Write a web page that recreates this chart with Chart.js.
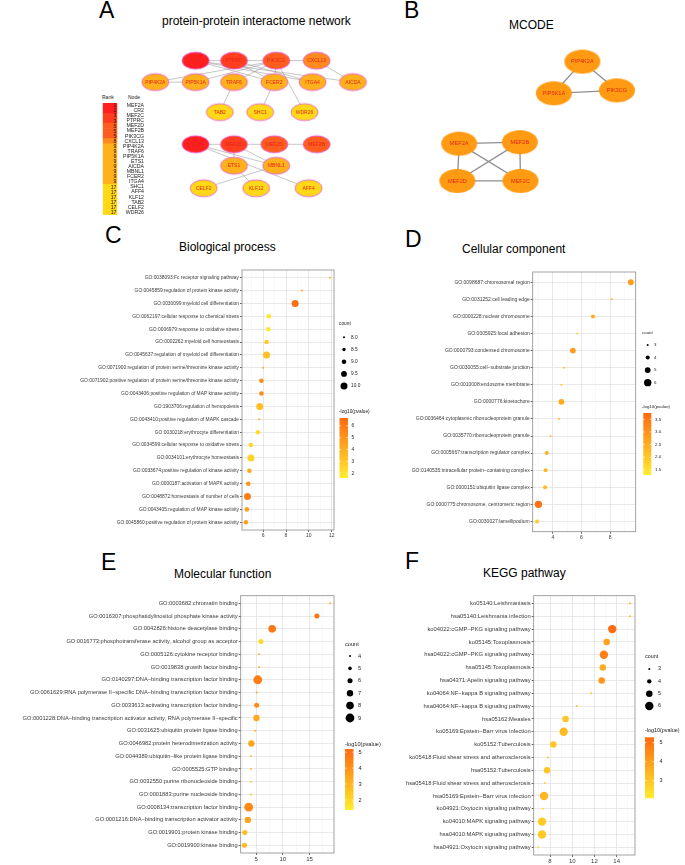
<!DOCTYPE html>
<html>
<head>
<meta charset="utf-8">
<script src="https://cdn.jsdelivr.net/npm/chart.js@4.4.1/dist/chart.umd.min.js"></script>
<style>
  body { margin: 0; background: #fff; width: 685px; height: 865px; position: relative; overflow: hidden; }
  canvas { position: absolute; }
  svg { position: absolute; left: 0; top: 0; }
</style>
</head>
<body>
<svg width="685" height="865" font-family="'Liberation Sans', Arial, sans-serif" fill="#000">
  <text x="99" y="18" font-size="23">A</text>
  <text x="162" y="25" font-size="12">protein-protein interactome network</text>
  <text x="404" y="18" font-size="23">B</text>
  <text x="509" y="29" font-size="12">MCODE</text>
  <text x="105" y="243" font-size="23">C</text>
  <text x="179" y="251" font-size="12">Biological process</text>
  <text x="405" y="247" font-size="23">D</text>
  <text x="462" y="253" font-size="12">Cellular component</text>
  <text x="101" y="570" font-size="23">E</text>
  <text x="174" y="578" font-size="12">Molecular function</text>
  <text x="405" y="569" font-size="23">F</text>
  <text x="483" y="577" font-size="12">KEGG pathway</text>
  <text x="102" y="98.5" font-size="5" fill="#222">Rank</text>
  <text x="128" y="98.5" font-size="5" fill="#222">Node</text>
</svg>
<canvas id="rankTable"></canvas>
<canvas id="netA"></canvas>
<canvas id="netB"></canvas>
<canvas id="bp"></canvas>
<canvas id="cc"></canvas>
<canvas id="mf"></canvas>
<canvas id="kegg"></canvas>
<script>
// ---- A: protein-protein network (layout units from the Cytoscape layout) ----
const pinNodes = ['CR2', 'PTPRC', 'PIK3CG', 'CXCL13', 'PIP4K2A', 'PIP5K1A', 'TRAF6', 'FCER2', 'ITGA4', 'AICDA',
  'TAB2', 'SHC1', 'WDR26', 'MEF2A', 'MEF2C', 'MEF2D', 'MEF2B', 'ETS1', 'MBNL1', 'CELF2', 'KLF12', 'AFF4'];
const pinX = [1, 1.95, 3, 4, 0, 1, 1.95, 2.95, 3.9, 4.9, 1.6, 2.6, 3.7, 1, 1.95, 2.95, 4, 1.95, 3, 1.2, 2.5, 3.8];
const pinY = [0, 0, 0, 0, 1, 1, 1, 1, 1, 1, 2.4, 2.4, 2.4, 3.9, 3.9, 3.9, 3.9, 4.9, 4.9, 5.95, 5.95, 5.95];
const pinEdges = [
  ['CR2', 'PTPRC'], ['CR2', 'FCER2'], ['CR2', 'ITGA4'], ['CR2', 'AICDA'], ['PTPRC', 'PIK3CG'],
  ['PTPRC', 'FCER2'], ['PTPRC', 'ITGA4'], ['PIK3CG', 'CXCL13'], ['PIK3CG', 'PIP4K2A'], ['PIK3CG', 'PIP5K1A'],
  ['PIK3CG', 'TRAF6'], ['PIK3CG', 'FCER2'], ['PIK3CG', 'WDR26'], ['PIP4K2A', 'PIP5K1A'], ['CXCL13', 'AICDA'],
  ['TRAF6', 'TAB2'], ['FCER2', 'SHC1'],
  ['MEF2A', 'MEF2C'], ['MEF2C', 'MEF2D'], ['MEF2D', 'MEF2B'], ['MEF2A', 'MBNL1'], ['MEF2C', 'MBNL1'],
  ['MEF2A', 'AFF4'], ['MEF2C', 'ETS1'], ['ETS1', 'KLF12'], ['MBNL1', 'CELF2']
];
const rankNodes = ['MEF2A', 'CR2', 'MEF2C', 'PTPRC', 'MEF2D', 'MEF2B', 'PIK3CG', 'CXCL13', 'PIP4K2A', 'TRAF6', 'PIP5K1A',
  'ETS1', 'AICDA', 'MBNL1', 'FCER2', 'ITGA4', 'SHC1', 'AFF4', 'KLF12', 'TAB2', 'CELF2', 'WDR26'];
const rankVals = [1, 1, 3, 3, 5, 5, 5, 8, 9, 9, 9, 9, 9, 9, 9, 9, 17, 17, 17, 17, 17, 17];

// ---- B: MCODE module ----
const mcodeNodes = ['PIP4K2A', 'PIP5K1A', 'PIK3CG', 'MEF2A', 'MEF2B', 'MEF2D', 'MEF2C'];
const mcodeX = [2.03, 1.56, 2.6, 0, 1, -0.03, 1.01];
const mcodeY = [-2.2, -1.35, -1.43, 0, -0.04, 1, 1];
const mcodeEdges = [['PIP4K2A', 'PIP5K1A'], ['PIP4K2A', 'PIK3CG'], ['PIP5K1A', 'PIK3CG'],
  ['MEF2A', 'MEF2B'], ['MEF2A', 'MEF2D'], ['MEF2A', 'MEF2C'], ['MEF2B', 'MEF2D'], ['MEF2B', 'MEF2C'], ['MEF2D', 'MEF2C']];

// ---- C: Biological process ----
const bpTerms = [
  'GO:0038093:Fc receptor signaling pathway',
  'GO:0045859:regulation of protein kinase activity',
  'GO:0030099:myeloid cell differentiation',
  'GO:0062197:cellular response to chemical stress',
  'GO:0006979:response to oxidative stress',
  'GO:0002262:myeloid cell homeostasis',
  'GO:0045637:regulation of myeloid cell differentiation',
  'GO:0071900:regulation of protein serine/threonine kinase activity',
  'GO:0071902:positive regulation of protein serine/threonine kinase activity',
  'GO:0043406:positive regulation of MAP kinase activity',
  'GO:1903706:regulation of hemopoiesis',
  'GO:0043410:positive regulation of MAPK cascade',
  'GO:0030218:erythrocyte differentiation',
  'GO:0034599:cellular response to oxidative stress',
  'GO:0034101:erythrocyte homeostasis',
  'GO:0033674:positive regulation of kinase activity',
  'GO:0000187:activation of MAPK activity',
  'GO:0048872:homeostasis of number of cells',
  'GO:0043405:regulation of MAP kinase activity',
  'GO:0045860:positive regulation of protein kinase activity'
];
const bpX = [11.83, 9.4, 8.8, 6.5, 6.45, 6.3, 6.3, 6.0, 5.85, 5.85, 5.7, 5.65, 5.54, 4.93, 4.93, 4.8, 4.7, 4.63, 4.58, 4.49];
const bpCount = [8, 8, 10, 9, 9, 9, 10, 8, 9, 9, 10, 8, 9, 9, 10, 9, 9, 10, 9, 9];
const bpLogP = [3.6, 4.4, 6.4, 1.8, 1.8, 2.8, 3.3, 4.0, 5.3, 5.4, 3.3, 3.5, 2.3, 2.4, 2.6, 4.2, 5.0, 5.8, 4.6, 4.6];
const bpXGrid = [5, 6, 7, 8, 9, 10, 11, 12];
const bpXMajor = [6, 8, 10, 12];
const bpCountBreaks = [8, 8.5, 9, 9.5, 10];
const bpCountLabels = ['8.0', '8.5', '9.0', '9.5', '10.0'];
const bpPTicks = [2, 3, 4, 5, 6];

// ---- D: Cellular component ----
const ccTerms = [
  'GO:0098687:chromosomal region',
  'GO:0031252:cell leading edge',
  'GO:0000228:nuclear chromosome',
  'GO:0005925:focal adhesion',
  'GO:0000793:condensed chromosome',
  'GO:0030055:cell\u2212substrate junction',
  'GO:0010008:endosome membrane',
  'GO:0000776:kinetochore',
  'GO:0036464:cytoplasmic ribonucleoprotein granule',
  'GO:0035770:ribonucleoprotein granule',
  'GO:0005667:transcription regulator complex',
  'GO:0140535:intracellular protein\u2212containing complex',
  'GO:0000151:ubiquitin ligase complex',
  'GO:0000775:chromosome, centromeric region',
  'GO:0030027:lamellipodium'
];
const ccX = [9.44, 8.1, 6.8, 5.7, 5.4, 4.8, 4.6, 4.6, 4.42, 3.84, 3.58, 3.5, 3.46, 3.0, 2.9];
const ccCount = [5, 3, 4, 3, 5, 3, 3, 5, 3, 3, 4, 4, 4, 6, 4];
const ccLogP = [2.8, 2.3, 2.5, 2.0, 2.8, 2.2, 2.0, 2.5, 2.2, 2.0, 2.4, 2.3, 2.2, 3.6, 1.9];
const ccXGrid = [3, 4, 5, 6, 7, 8, 9];
const ccXMajor = [4, 6, 8];
const ccCountBreaks = [3, 4, 5, 6];
const ccCountLabels = ['3', '4', '5', '6'];
const ccPTicks = [1.5, 2, 2.5, 3, 3.5];

// ---- E: Molecular function ----
const mfTerms = [
  'GO:0003682:chromatin binding',
  'GO:0016307:phosphatidylinositol phosphate kinase activity',
  'GO:0042826:histone deacetylase binding',
  'GO:0016773:phosphotransferase activity, alcohol group as acceptor',
  'GO:0005126:cytokine receptor binding',
  'GO:0019838:growth factor binding',
  'GO:0140297:DNA\u2212binding transcription factor binding',
  'GO:0061629:RNA polymerase II\u2212specific DNA\u2212binding transcription factor binding',
  'GO:0033613:activating transcription factor binding',
  'GO:0001228:DNA\u2212binding transcription activator activity, RNA polymerase II\u2212specific',
  'GO:0031625:ubiquitin protein ligase binding',
  'GO:0046982:protein heterodimerization activity',
  'GO:0044389:ubiquitin\u2212like protein ligase binding',
  'GO:0005525:GTP binding',
  'GO:0032550:purine ribonucleoside binding',
  'GO:0001883:purine nucleoside binding',
  'GO:0008134:transcription factor binding',
  'GO:0001216:DNA\u2212binding transcription activator activity',
  'GO:0019901:protein kinase binding',
  'GO:0019900:kinase binding'
];
const mfX = [18.9, 16.4, 8.0, 5.9, 5.56, 5.56, 5.3, 5.1, 5.1, 5.05, 4.8, 4.1, 4.0, 4.0, 4.0, 4.0, 3.6, 3.44, 2.88, 2.8];
const mfCount = [4, 6, 8, 6, 4, 4, 9, 4, 6, 7, 4, 7, 4, 4, 4, 4, 9, 7, 6, 6];
const mfLogP = [3.0, 4.9, 4.8, 1.9, 3.2, 3.2, 4.6, 3.3, 4.2, 3.3, 3.0, 3.4, 2.6, 2.6, 2.6, 2.6, 4.3, 3.5, 2.8, 2.8];
const mfXGrid = [2.5, 5, 7.5, 10, 12.5, 15, 17.5];
const mfXMajor = [5, 10, 15];
const mfCountBreaks = [4, 5, 6, 7, 8, 9];
const mfCountLabels = ['4', '5', '6', '7', '8', '9'];
const mfPTicks = [2, 3, 4, 5];

// ---- F: KEGG pathway ----
const keggTerms = [
  'ko05140:Leishmaniasis',
  'hsa05140:Leishmania infection',
  'ko04022:cGMP\u2212PKG signaling pathway',
  'ko05145:Toxoplasmosis',
  'hsa04022:cGMP\u2212PKG signaling pathway',
  'hsa05145:Toxoplasmosis',
  'hsa04371:Apelin signaling pathway',
  'ko04064:NF\u2212kappa B signaling pathway',
  'hsa04064:NF\u2212kappa B signaling pathway',
  'hsa05162:Measles',
  'ko05169:Epstein\u2212Barr virus infection',
  'ko05152:Tuberculosis',
  'ko05418:Fluid shear stress and atherosclerosis',
  'hsa05152:Tuberculosis',
  'hsa05418:Fluid shear stress and atherosclerosis',
  'hsa05169:Epstein\u2212Barr virus infection',
  'ko04921:Oxytocin signaling pathway',
  'ko04010:MAPK signaling pathway',
  'hsa04010:MAPK signaling pathway',
  'hsa04921:Oxytocin signaling pathway'
];
const keggX = [15.2, 15.2, 13.6, 13.1, 12.85, 12.75, 12.65, 11.7, 10.4, 9.4, 9.23, 8.3, 7.8, 7.73, 7.52, 7.46, 7.37, 7.28, 7.28, 6.92];
const keggCount = [3, 3, 6, 5, 6, 5, 5, 3, 3, 5, 6, 5, 3, 5, 3, 6, 3, 6, 6, 3];
const keggLogP = [3.3, 3.3, 5.2, 3.9, 4.7, 3.6, 4.2, 3.0, 3.3, 3.0, 3.3, 3.0, 3.0, 3.0, 2.7, 3.4, 2.4, 2.9, 2.9, 2.4];
const keggXGrid = [7, 8, 9, 10, 11, 12, 13, 14, 15];
const keggXMajor = [8, 10, 12, 14];
const keggCountBreaks = [3, 4, 5, 6];
const keggCountLabels = ['3', '4', '5', '6'];
const keggPTicks = [3, 4, 5];

const FONT = "'Liberation Sans', Arial, sans-serif";
const NARROW = "'Liberation Sans Narrow', 'Liberation Sans', Arial, sans-serif";
Chart.defaults.font.family = FONT;

function heat(v, lo, hi) {
  const t = Math.max(0, Math.min(1, (v - lo) / (hi - lo)));
  const a = [255, 236, 45], b = [255, 106, 16];
  return 'rgb(' + a.map((c, i) => Math.round(c + (b[i] - c) * t)).join(',') + ')';
}
function sizeScale(cMin, cMax, rMin, rMax) {
  const s0 = Math.sqrt(cMin), s1 = Math.sqrt(cMax);
  return c => rMin + (Math.sqrt(c) - s0) / (s1 - s0) * (rMax - rMin);
}
const rankColor = { 1: '#ff1f1f', 3: '#ff3d1f', 5: '#ff5d1f', 8: '#ff8b1f', 9: '#ffb11c', 17: '#ffd918' };

function place(id, x, y, w, h) {
  const cv = document.getElementById(id);
  cv.width = w; cv.height = h;
  cv.style.left = x + 'px'; cv.style.top = y + 'px';
  return cv;
}

// ---------- network panels ----------
const netCfg = {};
const netPlugin = {
  id: 'netLinks',
  beforeDatasetsDraw(chart) {
    const c = netCfg[chart.canvas.id], ctx = chart.ctx, meta = chart.getDatasetMeta(0);
    ctx.save();
    ctx.strokeStyle = c.edgeColor; ctx.lineWidth = c.edgeWidth;
    c.edges.forEach(([a, b]) => {
      const p = meta.data[c.nodes.indexOf(a)], q = meta.data[c.nodes.indexOf(b)];
      ctx.beginPath(); ctx.moveTo(p.x, p.y); ctx.lineTo(q.x, q.y); ctx.stroke();
    });
    ctx.restore();
  },
  afterDatasetsDraw(chart) {
    const c = netCfg[chart.canvas.id], ctx = chart.ctx, meta = chart.getDatasetMeta(0);
    ctx.save();
    ctx.font = c.fontSize + 'px ' + FONT;
    ctx.fillStyle = c.textColor; ctx.textAlign = 'center'; ctx.textBaseline = 'middle';
    meta.data.forEach((pt, i) => ctx.fillText(c.nodes[i], pt.x, pt.y + 0.3));
    ctx.restore();
  }
};

function ellipseSprite(rx, ry, fill, stroke, lw) {
  const c = document.createElement('canvas');
  c.width = Math.ceil(2 * rx + 2 * lw + 2); c.height = Math.ceil(2 * ry + 2 * lw + 2);
  const g = c.getContext('2d');
  g.beginPath(); g.ellipse(c.width / 2, c.height / 2, rx, ry, 0, 0, Math.PI * 2);
  g.fillStyle = fill; g.fill();
  if (lw) { g.lineWidth = lw; g.strokeStyle = stroke; g.stroke(); }
  return c;
}

function network(id, box, range, nodes, xs, ys, edges, look) {
  const cv = place(id, box.x, box.y, box.w, box.h);
  netCfg[id] = Object.assign({ nodes, edges }, look);
  return new Chart(cv, {
    type: 'scatter',
    data: {
      labels: nodes,
      datasets: [{
        data: xs.map((x, i) => ({ x, y: ys[i] })),
        pointStyle: nodes.map(n => ellipseSprite(look.rx, look.ry, look.fill(n), look.stroke, look.strokeWidth)),
        pointRadius: look.rx, pointHoverRadius: look.rx, pointBorderWidth: 0
      }]
    },
    options: {
      responsive: false, animation: false, events: [],
      layout: { padding: 0 },
      plugins: { legend: { display: false }, tooltip: { enabled: false } },
      scales: {
        x: { display: false, min: range.x0, max: range.x1 },
        y: { display: false, min: range.y0, max: range.y1, reverse: true }
      }
    },
    plugins: [netPlugin]
  });
}

const rankOf = n => rankVals[rankNodes.indexOf(n)];
network('netA', { x: 120, y: 30, w: 290, h: 190 }, { x0: -0.54, x1: 5.98, y0: -0.8, y1: 6.8 },
  pinNodes, pinX, pinY, pinEdges,
  { rx: 13.5, ry: 8.5, fill: n => rankColor[rankOf(n)], stroke: '#e455e0', strokeWidth: 0.8,
    edgeColor: '#a0a0a0', edgeWidth: 0.6, fontSize: 5, textColor: '#e3241c' });

network('netB', { x: 410, y: 30, w: 270, h: 190 }, { x0: -0.514, x1: 3.343, y0: -2.565, y1: 1.565 },
  mcodeNodes, mcodeX, mcodeY, mcodeEdges,
  { rx: 18, ry: 12, fill: () => '#ff9b12', stroke: '#ffb040', strokeWidth: 0,
    edgeColor: '#8e8e8e', edgeWidth: 1.3, fontSize: 5.6, textColor: '#e0261a' });

// ---------- rank table (A) ----------
const rankText = {
  id: 'rankText',
  afterDatasetsDraw(chart) {
    const ctx = chart.ctx, meta = chart.getDatasetMeta(0);
    ctx.save();
    ctx.font = '5.2px ' + FONT; ctx.fillStyle = '#2b1200';
    ctx.textAlign = 'right'; ctx.textBaseline = 'middle';
    meta.data.forEach((bar, i) => ctx.fillText(String(rankVals[i]), bar.x - 0.8, bar.y + 0.2));
    ctx.restore();
  }
};
new Chart(place('rankTable', 100, 100, 44, 118.5), {
  type: 'bar',
  data: {
    labels: rankNodes,
    datasets: [{ data: rankNodes.map(() => 1), backgroundColor: rankVals.map(r => rankColor[r]),
      barPercentage: 1, categoryPercentage: 1, borderWidth: 0 }]
  },
  options: {
    indexAxis: 'y', responsive: false, animation: false, events: [],
    layout: { padding: { left: 2.7, right: 0, top: 0, bottom: 0 } },
    plugins: { legend: { display: false }, tooltip: { enabled: false } },
    scales: {
      x: { display: false, min: 0, max: 1 },
      y: { position: 'right', afterFit: s => { s.width = 26.7; },
        grid: { display: false }, border: { display: false },
        ticks: { crossAlign: 'far', autoSkip: false, padding: 0, color: '#222', font: { size: 5.2 } } }
    }
  },
  plugins: [rankText]
});

// ---------- dot plots ----------
const dotCfg = {};
const dotPanel = {
  id: 'dotPanel',
  afterDatasetsDraw(chart) {
    const a = chart.chartArea, ctx = chart.ctx;
    ctx.save(); ctx.strokeStyle = '#8c8c8c'; ctx.lineWidth = 0.8;
    ctx.strokeRect(a.left, a.top, a.right - a.left, a.bottom - a.top); ctx.restore();
  },
  afterDraw(chart) {
    const c = dotCfg[chart.canvas.id], L = c.lg, ctx = chart.ctx, ox = c.box.x, oy = c.box.y;
    ctx.save();
    ctx.textBaseline = 'middle'; ctx.textAlign = 'left';
    ctx.font = c.legendFs + 'px ' + c.family;
    ctx.fillStyle = '#1a1a1a';
    ctx.fillText('count', L.x - ox, L.countY - oy);
    c.breaks.forEach((b, i) => {
      const y = L.y0 + i * L.dy - oy;
      ctx.beginPath(); ctx.arc(L.dotX - ox, y, c.rad(b), 0, Math.PI * 2);
      ctx.fillStyle = '#000'; ctx.fill();
      ctx.fillStyle = '#1a1a1a'; ctx.fillText(c.breakLabels[i], L.labX - ox, y);
    });
    ctx.fillText('-log10(pvalue)', L.x - ox, L.pY - oy);
    const bx = L.barX - ox, bt = L.barTop - oy, bb = L.barBot - oy;
    const g = ctx.createLinearGradient(0, bb, 0, bt);
    for (let k = 0; k <= 10; k++) g.addColorStop(k / 10, heat(c.pLo + (c.pHi - c.pLo) * k / 10, c.pLo, c.pHi));
    ctx.fillStyle = g; ctx.fillRect(bx, bt, L.barW, bb - bt);
    c.pTicks.forEach(v => {
      const y = bb - (v - c.pLo) / (c.pHi - c.pLo) * (bb - bt);
      ctx.strokeStyle = '#fff'; ctx.lineWidth = 0.6;
      ctx.beginPath(); ctx.moveTo(bx, y); ctx.lineTo(bx + 1.6, y);
      ctx.moveTo(bx + L.barW - 1.6, y); ctx.lineTo(bx + L.barW, y); ctx.stroke();
      ctx.fillStyle = '#1a1a1a';
      ctx.fillText(Number.isInteger(v) && c.pTicks.some(t => !Number.isInteger(t)) ? v.toFixed(1) : String(v), L.labX2 - ox, y);
    });
    ctx.restore();
  }
};

function dotPlot(id, d) {
  const box = d.box, plot = d.plot, n = d.terms.length;
  const cv = place(id, box.x, box.y, box.w, box.h);
  d.rad = sizeScale(d.breaks[0], d.breaks[d.breaks.length - 1], d.r[0], d.r[1]);
  dotCfg[id] = d;
  const isMajor = c => c.tick && d.xMajor.includes(c.tick.value);
  return new Chart(cv, {
    type: 'bubble',
    data: {
      datasets: [{
        data: d.x.map((v, i) => ({ x: v, y: i, r: d.rad(d.count[i]) })),
        backgroundColor: d.logp.map(p => heat(p, d.pLo, d.pHi)),
        borderWidth: 0, hoverBorderWidth: 0
      }]
    },
    options: {
      responsive: false, animation: false, events: [],
      layout: { padding: { left: 0, top: plot.T - box.y, right: box.x + box.w - plot.R, bottom: 0 } },
      plugins: { legend: { display: false }, tooltip: { enabled: false } },
      scales: {
        x: {
          type: 'linear', min: d.xMin, max: d.xMax, bounds: 'data',
          afterBuildTicks: s => { s.ticks = d.xGrid.map(v => ({ value: v })); },
          afterFit: s => { s.height = box.y + box.h - plot.B; },
          border: { display: false },
          grid: {
            color: c => isMajor(c) ? '#e3e3e3' : '#f1f1f1',
            lineWidth: c => isMajor(c) ? 0.8 : 0.5,
            tickLength: 2,
            tickColor: c => isMajor(c) ? '#444' : 'rgba(0,0,0,0)'
          },
          ticks: { autoSkip: false, maxRotation: 0, padding: 1, color: '#3a3a3a',
            font: { size: d.tickFs, family: d.family },
            callback: v => d.xMajor.includes(v) ? String(v) : '' }
        },
        y: {
          type: 'linear', reverse: true, min: -0.6, max: n - 0.4, bounds: 'data',
          afterBuildTicks: s => { s.ticks = d.terms.map((t, i) => ({ value: i })); },
          afterFit: s => { s.width = plot.L - box.x; },
          border: { display: false },
          grid: { color: '#e3e3e3', lineWidth: 0.8, tickLength: 2, tickColor: '#444' },
          ticks: { autoSkip: false, padding: 1, color: '#3a3a3a',
            font: { size: d.labelFs, family: d.family },
            callback: v => d.terms[v] }
        }
      }
    },
    plugins: [dotPanel]
  });
}

dotPlot('bp', {
  terms: bpTerms, x: bpX, count: bpCount, logp: bpLogP,
  breaks: bpCountBreaks, breakLabels: bpCountLabels, pTicks: bpPTicks,
  xGrid: bpXGrid, xMajor: bpXMajor, xMin: 4.15, xMax: 12.2,
  box: { x: 0, y: 262, w: 372, h: 285 }, plot: { L: 242, T: 270, R: 334, B: 530 },
  r: [1.0, 3.5], pLo: 1.6, pHi: 6.65, family: NARROW, labelFs: 4.9, tickFs: 5, legendFs: 4.8,
  lg: { x: 339, countY: 324, dotX: 344, labX: 351, y0: 337.3, dy: 12.2, pY: 411.7,
    barX: 339.5, barW: 8.5, barTop: 418, barBot: 478, labX2: 351.5 }
});

dotPlot('cc', {
  terms: ccTerms, x: ccX, count: ccCount, logp: ccLogP,
  breaks: ccCountBreaks, breakLabels: ccCountLabels, pTicks: ccPTicks,
  xGrid: ccXGrid, xMajor: ccXMajor, xMin: 2.6, xMax: 9.78,
  box: { x: 345, y: 264, w: 340, h: 285 }, plot: { L: 532.7, T: 272, R: 635.7, B: 531.7 },
  r: [1.0, 3.7], pLo: 1.3, pHi: 3.75, family: NARROW, labelFs: 5, tickFs: 5, legendFs: 4.4,
  lg: { x: 642, countY: 333, dotX: 647.7, labX: 654, y0: 345, dy: 12.55, pY: 407,
    barX: 643.3, barW: 8, barTop: 413, barBot: 475, labX2: 655 }
});

dotPlot('mf', {
  terms: mfTerms, x: mfX, count: mfCount, logp: mfLogP,
  breaks: mfCountBreaks, breakLabels: mfCountLabels, pTicks: mfPTicks,
  xGrid: mfXGrid, xMajor: mfXMajor, xMin: 2.1, xMax: 19.6,
  box: { x: 0, y: 588, w: 395, h: 277 }, plot: { L: 240.7, T: 595.7, R: 334, B: 853 },
  r: [1.0, 4.4], pLo: 1.37, pHi: 5.2, family: FONT, labelFs: 5.7, tickFs: 6, legendFs: 5.6,
  lg: { x: 345, countY: 644, dotX: 350, labX: 358, y0: 656, dy: 12.4, pY: 744,
    barX: 345, barW: 8.5, barTop: 749, barBot: 810, labX2: 358.5 }
});

dotPlot('kegg', {
  terms: keggTerms, x: keggX, count: keggCount, logp: keggLogP,
  breaks: keggCountBreaks, breakLabels: keggCountLabels, pTicks: keggPTicks,
  xGrid: keggXGrid, xMajor: keggXMajor, xMin: 6.53, xMax: 15.65,
  box: { x: 345, y: 588, w: 340, h: 277 }, plot: { L: 533.7, T: 595.7, R: 635, B: 855 },
  r: [1.0, 4.2], pLo: 2.07, pHi: 5.28, family: FONT, labelFs: 5.8, tickFs: 6, legendFs: 5.4,
  lg: { x: 645, countY: 657, dotX: 649.3, labX: 658, y0: 669, dy: 12.33, pY: 731,
    barX: 645, barW: 9, barTop: 737.3, barBot: 798.3, labX2: 659.5 }
});
</script>
</body>
</html>
